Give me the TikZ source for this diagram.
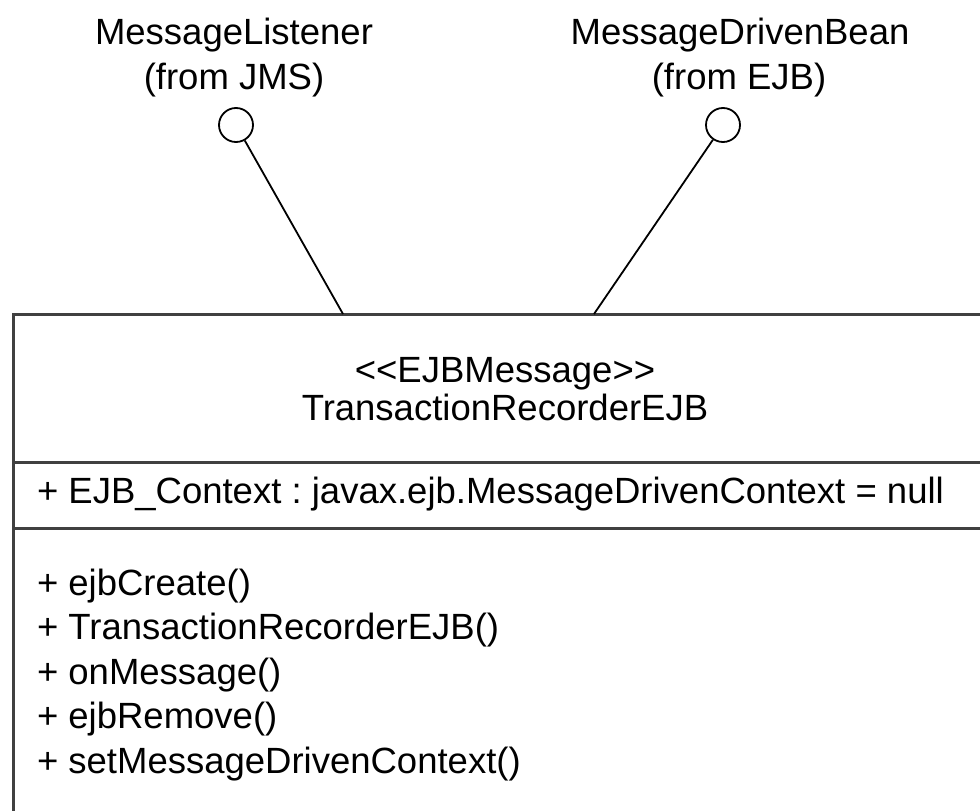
\documentclass[tikz,border=0pt]{standalone}
\usepackage{fontspec}
\setmainfont{Liberation Sans}
\begin{document}
\frenchspacing
\begin{tikzpicture}[x=1pt,y=-1pt,
  lbl/.style={inner sep=0pt,outer sep=0pt,font=\fontsize{36.5}{45}\selectfont},
  iface/.style={circle,draw=black,line width=1.8pt,fill=white,minimum size=34pt,inner sep=0pt},
  conn/.style={draw=black,line width=1.8pt},
  boxline/.style={draw=black!75,line width=3pt}]
\useasboundingbox (0,0) rectangle (980,811);
\clip (0,0) rectangle (980,811);
% class box
\draw[boxline] (13,1000) -- (13,314) -- (1000,314);
\draw[boxline] (13,462) -- (1000,462);
\draw[boxline] (13,528) -- (1000,528);
\coordinate (tl) at (343,314);
\coordinate (tr) at (594,314);
% interfaces
\node[iface] (ml) at (236,125) {};
\node[iface] (mdb) at (723,125) {};
\node[lbl,anchor=base] (mlname) at (234,44) {MessageListener};
\node[lbl,anchor=base] (mlpkg) at (234,89) {(from JMS)};
\node[lbl,anchor=base] (mdbname) at (740,44) {MessageDrivenBean};
\node[lbl,anchor=base] (mdbpkg) at (739,89) {(from EJB)};
\draw[conn] (ml) -- (tl);
\draw[conn] (mdb) -- (tr);
% title
\node[lbl,anchor=base] (stereo) at (505,382) {{<}{<}EJBMessage{>}{>}};
\node[lbl,anchor=base] (cname) at (505,420) {TransactionRecorderEJB};
% attribute
\node[lbl,anchor=base west] (attr) at (37,503) {+ EJB\_Context : javax.ejb.MessageDrivenContext = null};
% operations
\node[lbl,anchor=base west] (op1) at (37,595) {+ ejbCreate()};
\node[lbl,anchor=base west] (op2) at (37,639.5) {+ TransactionRecorderEJB()};
\node[lbl,anchor=base west] (op3) at (37,684) {+ onMessage()};
\node[lbl,anchor=base west] (op4) at (37,728.5) {+ ejbRemove()};
\node[lbl,anchor=base west] (op5) at (37,773) {+ setMessageDrivenContext()};
\end{tikzpicture}
\end{document}
